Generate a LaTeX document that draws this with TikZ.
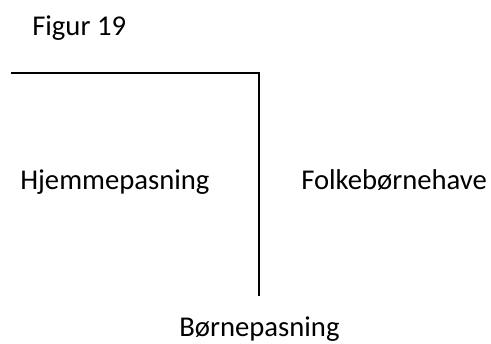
\documentclass[tikz,border=0pt]{standalone}
\usepackage{fontspec}
\setmainfont{Carlito}
\begin{document}
\begin{tikzpicture}[x=0.75pt,y=-0.75pt,
  lbl/.style={inner sep=0pt,anchor=base west,font=\fontsize{21.5}{26}\selectfont},
  rule/.style={line width=1.1pt}]
\useasboundingbox (0,0) rectangle (491,343);
\node[lbl] (fig) at (32,35) {Figur 19};
\node[lbl] (hjem) at (20,189) {Hjemmepasning};
\node[lbl] (folk) at (301,189) {Folkebørnehave};
\node[lbl] (born) at (179,336) {Børnepasning};
\coordinate (start) at (11,73);
\coordinate (corner) at (259,73);
\coordinate (end) at (259,296);
\draw[rule] (start) -- (corner) -- (end);
\end{tikzpicture}
\end{document}
